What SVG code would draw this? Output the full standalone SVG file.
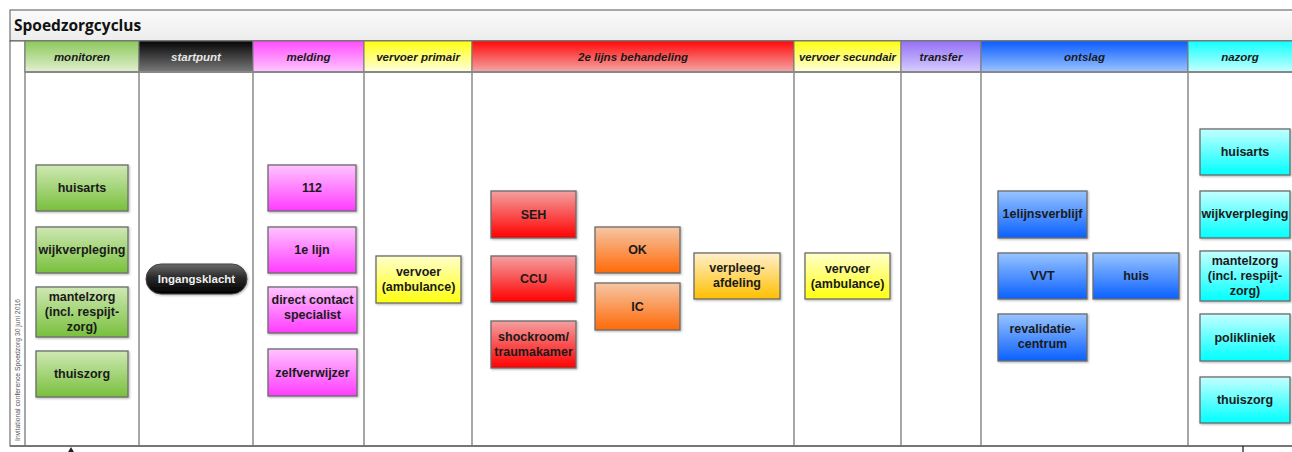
<svg xmlns="http://www.w3.org/2000/svg" width="1292" height="452" viewBox="0 0 1292 452">
<defs>
<linearGradient id="gTitle" x1="0" y1="0" x2="0" y2="1"><stop offset="0" stop-color="#fbfbfb"/><stop offset="1" stop-color="#ececec"/></linearGradient>
<linearGradient id="hGreen" x1="0" y1="0" x2="0" y2="1"><stop offset="0" stop-color="#8cc85a"/><stop offset="1" stop-color="#e2f0d2"/></linearGradient>
<linearGradient id="hBlack" x1="0" y1="0" x2="0" y2="1"><stop offset="0" stop-color="#050505"/><stop offset="1" stop-color="#7a7a7a"/></linearGradient>
<linearGradient id="hPink" x1="0" y1="0" x2="0" y2="1"><stop offset="0" stop-color="#ff4cff"/><stop offset="1" stop-color="#ffc8ff"/></linearGradient>
<linearGradient id="hYellow" x1="0" y1="0" x2="0" y2="1"><stop offset="0" stop-color="#ffff10"/><stop offset="1" stop-color="#ffffe0"/></linearGradient>
<linearGradient id="hRed" x1="0" y1="0" x2="0" y2="1"><stop offset="0" stop-color="#ff0808"/><stop offset="1" stop-color="#f4a8a8"/></linearGradient>
<linearGradient id="hPurple" x1="0" y1="0" x2="0" y2="1"><stop offset="0" stop-color="#9470f4"/><stop offset="1" stop-color="#d6ceff"/></linearGradient>
<linearGradient id="hBlue" x1="0" y1="0" x2="0" y2="1"><stop offset="0" stop-color="#0a5cff"/><stop offset="1" stop-color="#9cc4ff"/></linearGradient>
<linearGradient id="hCyan" x1="0" y1="0" x2="0" y2="1"><stop offset="0" stop-color="#10ffff"/><stop offset="1" stop-color="#c8ffff"/></linearGradient>
<linearGradient id="nGreen" x1="0" y1="0" x2="0" y2="1"><stop offset="0" stop-color="#cfe8b4"/><stop offset="1" stop-color="#78c03c"/></linearGradient>
<linearGradient id="nPink" x1="0" y1="0" x2="0" y2="1"><stop offset="0" stop-color="#ffc4ff"/><stop offset="1" stop-color="#ff3cff"/></linearGradient>
<linearGradient id="nYellow" x1="0" y1="0" x2="0" y2="1"><stop offset="0" stop-color="#ffffcc"/><stop offset="1" stop-color="#ffff10"/></linearGradient>
<linearGradient id="nRed" x1="0" y1="0" x2="0" y2="1"><stop offset="0" stop-color="#f4a0a0"/><stop offset="1" stop-color="#ff0000"/></linearGradient>
<linearGradient id="nOrange" x1="0" y1="0" x2="0" y2="1"><stop offset="0" stop-color="#f6c6a4"/><stop offset="1" stop-color="#ff6a08"/></linearGradient>
<linearGradient id="nGold" x1="0" y1="0" x2="0" y2="1"><stop offset="0" stop-color="#fff0cc"/><stop offset="1" stop-color="#ffbf00"/></linearGradient>
<linearGradient id="nBlue" x1="0" y1="0" x2="0" y2="1"><stop offset="0" stop-color="#98c4ff"/><stop offset="1" stop-color="#0a60ff"/></linearGradient>
<linearGradient id="nCyan" x1="0" y1="0" x2="0" y2="1"><stop offset="0" stop-color="#c4ffff"/><stop offset="1" stop-color="#00ffff"/></linearGradient>
<linearGradient id="nPill" x1="0" y1="0" x2="0" y2="1"><stop offset="0" stop-color="#6a6a6a"/><stop offset="0.45" stop-color="#2a2a2a"/><stop offset="1" stop-color="#000"/></linearGradient>
<filter id="sh" x="-10%" y="-10%" width="130%" height="130%"><feDropShadow dx="1" dy="1" stdDeviation="0.8" flood-color="#000" flood-opacity="0.3"/></filter>
</defs>
<style>
.hdr{font-family:"Liberation Sans",Arial,sans-serif;font-weight:bold;font-style:italic;font-size:11.5px;fill:#1a1a1a;text-anchor:middle}
.nt{font-family:"Liberation Sans",Arial,sans-serif;font-weight:bold;font-size:12.5px;fill:#1a1a1a;text-anchor:middle}
.box{stroke:#6a6a6a;stroke-width:1.3;filter:url(#sh)}
.col{stroke:#8a8a8a;stroke-width:1.5;fill:none}
.hbox{stroke:#777;stroke-width:1}
</style>
<rect x="0" y="0" width="1292" height="452" fill="#fff"/>
<g id="frame">
<rect x="10" y="10" width="1300" height="31" fill="url(#gTitle)" stroke="#555" stroke-width="1"/>
<text x="14" y="31" font-family="'Open Sans','Liberation Sans',sans-serif" font-weight="bold" font-size="15.5" fill="#111">Spoedzorgcyclus</text>
<rect x="10" y="41" width="1300" height="405" fill="#fff" stroke="#555" stroke-width="1"/>
<line x1="25" y1="41" x2="25" y2="446" class="col"/>
<text transform="translate(20,441) rotate(-90)" font-family="'Liberation Sans',Arial,sans-serif" font-size="8" fill="#555" textLength="142" lengthAdjust="spacingAndGlyphs">Invitational conference Spoedzorg 30 juni 2016</text>
</g>
<g id="headers">
<rect x="25" y="41" width="114" height="31" fill="url(#hGreen)" class="hbox"/>
<text x="82" y="61" class="hdr">monitoren</text>
<rect x="139" y="41" width="114" height="31" fill="url(#hBlack)" class="hbox"/>
<text x="196" y="61" class="hdr" style="fill:#e6e6e6">startpunt</text>
<rect x="253" y="41" width="111" height="31" fill="url(#hPink)" class="hbox"/>
<text x="308.5" y="61" class="hdr">melding</text>
<rect x="364" y="41" width="108" height="31" fill="url(#hYellow)" class="hbox"/>
<text x="418" y="61" class="hdr">vervoer primair</text>
<rect x="472" y="41" width="322" height="31" fill="url(#hRed)" class="hbox"/>
<text x="633" y="61" class="hdr">2e lijns behandeling</text>
<rect x="794" y="41" width="107" height="31" fill="url(#hYellow)" class="hbox"/>
<text x="847.5" y="61" class="hdr" textLength="97" lengthAdjust="spacingAndGlyphs">vervoer secundair</text>
<rect x="901" y="41" width="80" height="31" fill="url(#hPurple)" class="hbox"/>
<text x="941" y="61" class="hdr">transfer</text>
<rect x="981" y="41" width="207" height="31" fill="url(#hBlue)" class="hbox"/>
<text x="1084.5" y="61" class="hdr">ontslag</text>
<rect x="1188" y="41" width="120" height="31" fill="url(#hCyan)" class="hbox"/>
<text x="1240" y="61" class="hdr">nazorg</text>
</g>
<g id="lanes">
<line x1="25" y1="72" x2="1292" y2="72" stroke="#888" stroke-width="2"/>
<line x1="139" y1="72" x2="139" y2="446" class="col"/>
<line x1="253" y1="72" x2="253" y2="446" class="col"/>
<line x1="364" y1="72" x2="364" y2="446" class="col"/>
<line x1="472" y1="72" x2="472" y2="446" class="col"/>
<line x1="794" y1="72" x2="794" y2="446" class="col"/>
<line x1="901" y1="72" x2="901" y2="446" class="col"/>
<line x1="981" y1="72" x2="981" y2="446" class="col"/>
<line x1="1188" y1="72" x2="1188" y2="446" class="col"/>
<line x1="10" y1="446" x2="1292" y2="446" stroke="#666" stroke-width="1.5"/>
</g>
<g id="n-huisarts1"><rect x="36" y="165" width="92" height="46" fill="url(#nGreen)" class="box"/><text x="82" y="192" class="nt">huisarts</text></g>
<g id="n-wijkverpleging1"><rect x="36" y="227" width="92" height="46" fill="url(#nGreen)" class="box"/><text x="82" y="254" class="nt">wijkverpleging</text></g>
<g id="n-mantelzorg1"><rect x="36" y="287" width="92" height="50" fill="url(#nGreen)" class="box"/><text x="82" y="301" class="nt">mantelzorg</text><text x="82" y="316" class="nt">(incl. respijt-</text><text x="82" y="331" class="nt">zorg)</text></g>
<g id="n-thuiszorg1"><rect x="36" y="351" width="92" height="46" fill="url(#nGreen)" class="box"/><text x="82" y="378" class="nt">thuiszorg</text></g>
<g id="n-ingangsklacht"><rect x="146" y="264" width="101" height="30" rx="15" ry="15" fill="url(#nPill)" stroke="#444" stroke-width="1" filter="url(#sh)"/><text x="196.5" y="283" class="nt" style="fill:#f0f0f0;font-size:11.5px">Ingangsklacht</text></g>
<g id="n-112"><rect x="268" y="165" width="88" height="46" fill="url(#nPink)" class="box"/><text x="312" y="192" class="nt">112</text></g>
<g id="n-1elijn"><rect x="268" y="227" width="88" height="46" fill="url(#nPink)" class="box"/><text x="312" y="254" class="nt">1e lijn</text></g>
<g id="n-directcontact"><rect x="268" y="287" width="89" height="46" fill="url(#nPink)" class="box"/><text x="312.5" y="304" class="nt">direct contact</text><text x="312.5" y="319" class="nt">specialist</text></g>
<g id="n-zelfverwijzer"><rect x="268" y="349" width="89" height="47" fill="url(#nPink)" class="box"/><text x="312.5" y="377" class="nt">zelfverwijzer</text></g>
<g id="n-vervoer1"><rect x="376" y="256" width="85" height="47" fill="url(#nYellow)" class="box"/><text x="418.5" y="276" class="nt">vervoer</text><text x="418.5" y="291" class="nt">(ambulance)</text></g>
<g id="n-seh"><rect x="491" y="191" width="85" height="47" fill="url(#nRed)" class="box"/><text x="533.5" y="219" class="nt">SEH</text></g>
<g id="n-ccu"><rect x="491" y="256" width="85" height="46" fill="url(#nRed)" class="box"/><text x="533.5" y="283" class="nt">CCU</text></g>
<g id="n-shockroom"><rect x="491" y="321" width="85" height="47" fill="url(#nRed)" class="box"/><text x="533.5" y="341" class="nt">shockroom/</text><text x="533.5" y="356" class="nt">traumakamer</text></g>
<g id="n-ok"><rect x="595" y="227" width="85" height="46" fill="url(#nOrange)" class="box"/><text x="637.5" y="254" class="nt">OK</text></g>
<g id="n-ic"><rect x="595" y="283" width="85" height="47" fill="url(#nOrange)" class="box"/><text x="637.5" y="311" class="nt">IC</text></g>
<g id="n-verpleegafdeling"><rect x="694" y="253" width="86" height="46" fill="url(#nGold)" class="box"/><text x="737" y="272" class="nt">verpleeg-</text><text x="737" y="287" class="nt">afdeling</text></g>
<g id="n-vervoer2"><rect x="805" y="253" width="85" height="46" fill="url(#nYellow)" class="box"/><text x="847.5" y="273" class="nt">vervoer</text><text x="847.5" y="288" class="nt">(ambulance)</text></g>
<g id="n-1elijnsverblijf"><rect x="998" y="191" width="89" height="47" fill="url(#nBlue)" class="box"/><text x="1042.5" y="218" class="nt">1elijnsverblijf</text></g>
<g id="n-vvt"><rect x="998" y="253" width="89" height="46" fill="url(#nBlue)" class="box"/><text x="1042.5" y="280" class="nt">VVT</text></g>
<g id="n-huis"><rect x="1093" y="253" width="86" height="46" fill="url(#nBlue)" class="box"/><text x="1136" y="280" class="nt">huis</text></g>
<g id="n-revalidatie"><rect x="998" y="314" width="89" height="47" fill="url(#nBlue)" class="box"/><text x="1042.5" y="333" class="nt">revalidatie-</text><text x="1042.5" y="348" class="nt">centrum</text></g>
<g id="n-huisarts2"><rect x="1200" y="129" width="90" height="46" fill="url(#nCyan)" class="box"/><text x="1245" y="156" class="nt">huisarts</text></g>
<g id="n-wijkverpleging2"><rect x="1200" y="191" width="90" height="47" fill="url(#nCyan)" class="box"/><text x="1245" y="218" class="nt">wijkverpleging</text></g>
<g id="n-mantelzorg2"><rect x="1200" y="251" width="90" height="50" fill="url(#nCyan)" class="box"/><text x="1245" y="265" class="nt">mantelzorg</text><text x="1245" y="280" class="nt">(incl. respijt-</text><text x="1245" y="295" class="nt">zorg)</text></g>
<g id="n-polikliniek"><rect x="1200" y="314" width="90" height="47" fill="url(#nCyan)" class="box"/><text x="1245" y="342" class="nt">polikliniek</text></g>
<g id="n-thuiszorg2"><rect x="1200" y="377" width="90" height="46" fill="url(#nCyan)" class="box"/><text x="1245" y="404" class="nt">thuiszorg</text></g>
<g id="connectors">
<line x1="71" y1="470" x2="71" y2="451" stroke="#222" stroke-width="1.3"/>
<polygon points="71,447 67.5,453 74.5,453" fill="#222"/>
<line x1="1243" y1="446" x2="1243" y2="470" stroke="#222" stroke-width="1.3"/>
</g>
</svg>
